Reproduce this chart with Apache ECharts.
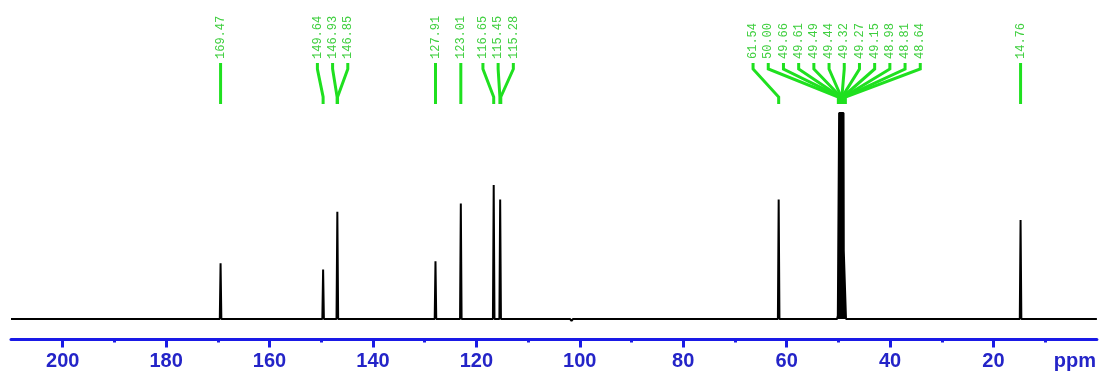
<!DOCTYPE html>
<html><head><meta charset="utf-8">
<script src="https://cdn.jsdelivr.net/npm/echarts@6/dist/echarts.min.js"></script>
<style>html,body{margin:0;padding:0;background:#fff}#c{width:1099px;height:376px}</style>
</head><body><div id="c"></div>
<script>
// Peak labels (ppm)
const peakLabels = ['169.47','149.64','146.93','146.85','127.91','123.01','116.65','115.45','115.28',
  '61.54','50.00','49.66','49.61','49.49','49.44','49.32','49.27','49.15','48.98','48.81','48.64','14.76'];
// Axis ticks
const labelTicks = [0,20,40,60,80,100,120,140,160,180,200];
const majorTicks = [20,40,60,80,100,120,140,160,180,200];
const minorTicks = [10,30,50,70,90,110,130,150,170,190];
// Spectrum vertices (ppm, relative intensity)
const spectrumPpm = [210,
  169.62,169.47,169.32,
  149.79,149.64,149.49,
  147.05,146.89,146.73,
  128.06,127.91,127.76,
  123.16,123.01,122.86,
  116.80,116.65,116.50,
  115.55,115.40,115.25,
  101.90,101.60,101.30,
  61.69,61.54,61.39,
  50.25,50.10,49.95,49.85,49.00,48.95,48.60,48.52,
  14.91,14.76,14.61,
  0];
const spectrumInt = [0,
  0,27,0,
  0,24,0,
  0,52,0,
  0,28,0,
  0,56,0,
  0,65,0,
  0,58,0,
  0,-1,0,
  0,58,0,
  0,1.5,1.5,100,100,33,33,0,
  0,48,0,
  0];

const BLUE = '#1a1ae6', LBLUE = '#2424c8', GREEN = '#1fe01f', TGREEN = '#3fcf3f';
const chart = echarts.init(document.getElementById('c'), null, {renderer:'canvas'});
const data = spectrumPpm.map((p,i)=>[p, spectrumInt[i]]);

chart.setOption({
  animation:false,
  backgroundColor:'#fff',
  grid:{left:11, right:1, top:113, bottom:36.5},
  xAxis:[{
    type:'value', min:0, max:210, inverse:true, position:'bottom',
    axisLine:{show:true, onZero:false, lineStyle:{color:BLUE, width:3}},
    axisTick:{show:true, customValues:majorTicks, length:8, lineStyle:{color:BLUE, width:3}},
    axisLabel:{show:true, customValues:labelTicks, margin:12,
      color:LBLUE, fontFamily:'Liberation Sans', fontWeight:'bold', fontSize:20,
      formatter:v=> v===0 ? '{u|ppm}' : String(v),
      rich:{u:{padding:[0,44,0,0], color:LBLUE, fontFamily:'Liberation Sans', fontWeight:'bold', fontSize:20}}},
    splitLine:{show:false}
  },{
    type:'value', min:0, max:210, inverse:true, position:'bottom', gridIndex:0,
    axisLine:{show:false, onZero:false},
    axisTick:{show:true, customValues:minorTicks, length:3, lineStyle:{color:BLUE, width:3}},
    axisLabel:{show:false}, splitLine:{show:false}
  }],
  yAxis:{type:'value', min:-10, max:100, show:false},
  series:[{
    type:'line', data:data, xAxisIndex:0, symbol:'none', clip:false,
    lineStyle:{color:'#000', width:2},
    areaStyle:{color:'#000', opacity:1}
  }]
});

// Peak label annotations
const sp = 15.2;
const peakPx = peakLabels.map(s => chart.convertToPixel({xAxisIndex:0}, parseFloat(s)));
let groups = peakPx.map((p,i)=>({s:i,e:i}));
const ctr = g => { let t=0; for(let i=g.s;i<=g.e;i++) t+=peakPx[i]; return t/(g.e-g.s+1); };
let changed = true;
while(changed){
  changed=false;
  for(let k=0;k<groups.length-1;k++){
    const A=groups[k], B=groups[k+1];
    const aLast = ctr(A) + (A.e-A.s)/2*sp;
    const bFirst = ctr(B) - (B.e-B.s)/2*sp;
    if(bFirst - aLast < sp){ groups.splice(k,2,{s:A.s,e:B.e}); changed=true; break; }
  }
}
const elems = [];
groups.forEach(g=>{
  const c = ctr(g), n = g.e-g.s+1;
  for(let i=g.s;i<=g.e;i++){
    const lx = c - (n-1)/2*sp + (i-g.s)*sp, px = peakPx[i];
    elems.push({type:'polyline', silent:true,
      shape:{points:[[lx,63],[lx,69],[px,97],[px,104]]},
      style:{stroke:GREEN, lineWidth:3, fill:null}});
    elems.push({type:'text', silent:true, x:lx, y:59, rotation:Math.PI/2,
      style:{text:peakLabels[i], fill:TGREEN, font:'12px "Liberation Mono"', align:'left', verticalAlign:'middle'}});
  }
});
chart.setOption({graphic:{elements:elems}});
</script></body></html>
